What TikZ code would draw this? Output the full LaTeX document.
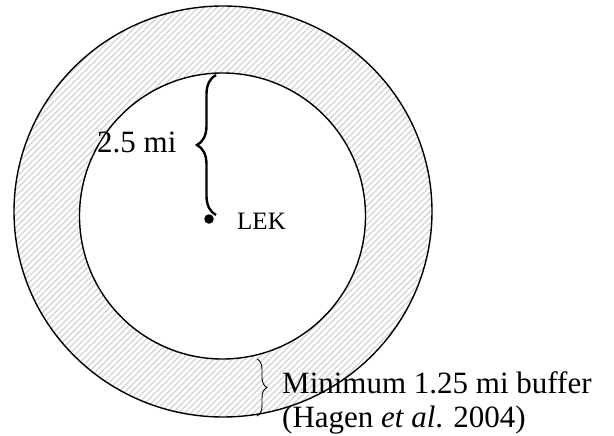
\documentclass[tikz,border=0pt]{standalone}
\usepackage{fontspec}
\setmainfont{Liberation Serif}
\usetikzlibrary{decorations.pathreplacing,patterns.meta}
\begin{document}
\begin{tikzpicture}[x=1pt,y=-1pt,
  ring/.style={line width=1.4pt,pattern={Lines[angle=45,distance=4.4pt,line width=1.3pt]},pattern color=black!17,even odd rule},
  bigbrace/.style={decorate,decoration={brace,amplitude=19pt},line width=2.4pt},
  smallbrace/.style={decorate,decoration={brace,amplitude=10pt},line width=0.9pt},
  lbl/.style={inner sep=0pt,font=\fontsize{31}{34}\selectfont}]
\useasboundingbox (0,0) rectangle (614,436);
\draw[ring] (223,211.5) ellipse [x radius=209,y radius=205.5] (222.5,216) circle [radius=143];
\node[circle,fill,inner sep=0pt,minimum size=9.5pt] (lek) at (209,219) {};
\node[inner sep=0pt,anchor=base west,font=\fontsize{25}{28}\selectfont] (lektext) at (237,229) {LEK};
\coordinate (rtop) at (216,75); \coordinate (rbot) at (216,215);
\draw[bigbrace] (rbot) -- (rtop);
\node[lbl,anchor=base west] (radius) at (97,153) {2.5 mi};
\coordinate (btop) at (257,359); \coordinate (bbot) at (257,416);
\draw[smallbrace] (btop) -- (bbot);
\node[lbl,anchor=base west] (buf1) at (282,393) {Minimum 1.25 mi buffer};
\node[lbl,anchor=base west] (buf2) at (282,427) {(Hagen \textit{et al}. 2004)};
\end{tikzpicture}
\end{document}
